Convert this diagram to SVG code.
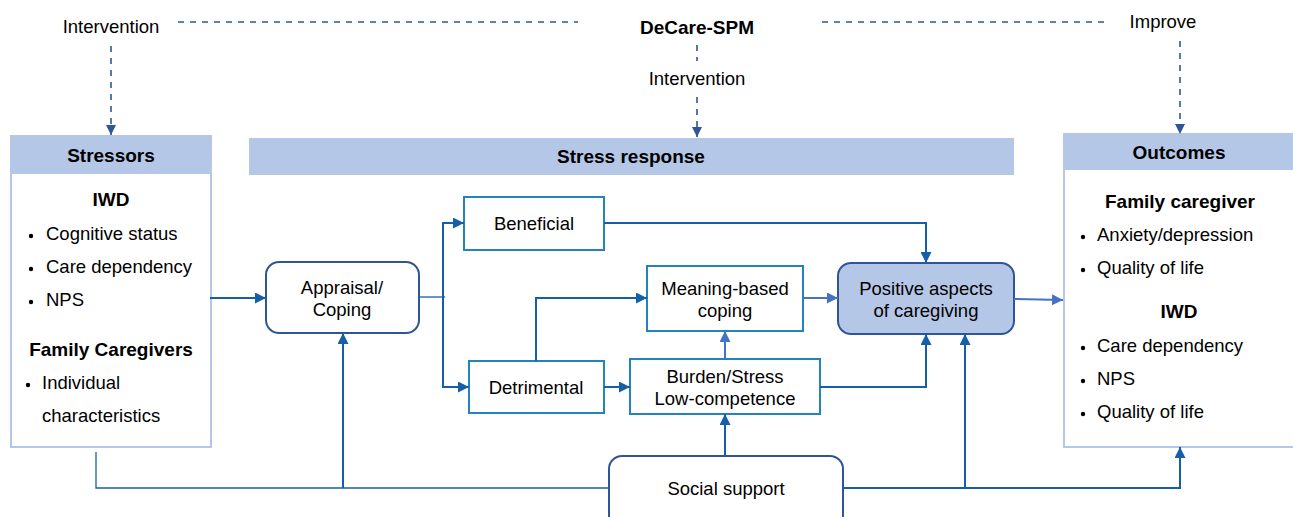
<svg xmlns="http://www.w3.org/2000/svg" width="1293" height="517" viewBox="0 0 1293 517">
<style>
text{font-family:"Liberation Sans",Arial,sans-serif;font-size:18.5px;fill:#000}
.b{font-weight:bold;font-size:19px}
.c{text-anchor:middle}
.hdr{fill:#b4c7e7}
.panel{fill:#fff;stroke:#b4c7e7;stroke-width:2}
.box{fill:#fff;stroke:#2383bd;stroke-width:2}
.rbox{fill:#fff;stroke:#2f5597;stroke-width:2}
.dash{fill:none;stroke:#2f5597;stroke-width:1.6;stroke-dasharray:6,6}
.ln{fill:none;stroke:#145fa8;stroke-width:2}
.thin{fill:none;stroke:#145fa8;stroke-width:1.3}
.lt{fill:none;stroke:#4472c4;stroke-width:2}
</style>
<defs>
<marker id="ad" viewBox="0 0 10 10" refX="10" refY="5" markerWidth="5.5" markerHeight="5.5" orient="auto"><path d="M0,0 L10,5 L0,10 z" fill="#145fa8"/></marker>
<marker id="al" viewBox="0 0 10 10" refX="10" refY="5" markerWidth="5.5" markerHeight="5.5" orient="auto"><path d="M0,0 L10,5 L0,10 z" fill="#4472c4"/></marker>
<marker id="ak" viewBox="0 0 10 10" refX="10" refY="5" markerWidth="6.5" markerHeight="6.5" orient="auto"><path d="M0,0 L10,5 L0,10 z" fill="#2f5597"/></marker>
</defs>

<g id="top">
<text class="c" x="111" y="33">Intervention</text>
<text class="c b" x="697" y="34">DeCare-SPM</text>
<text class="c" x="697" y="85">Intervention</text>
<text class="c" x="1163" y="28">Improve</text>
</g>

<g id="stressors">
<rect class="panel" x="11" y="136" width="200" height="311"/>
<rect class="hdr" x="11" y="136" width="200" height="38"/>
<text class="c b" x="111" y="162">Stressors</text>
<text class="c b" x="111" y="206">IWD</text>
<circle cx="31" cy="236" r="2.2"/><text x="46" y="240">Cognitive status</text>
<circle cx="31" cy="269" r="2.2"/><text x="46" y="273">Care dependency</text>
<circle cx="31" cy="302" r="2.2"/><text x="46" y="306">NPS</text>
<text class="c b" x="111" y="356">Family Caregivers</text>
<circle cx="28" cy="385" r="2.2"/><text x="42" y="389">Individual</text>
<text x="42" y="422">characteristics</text>
</g>

<g id="stress-response">
<rect class="hdr" x="249" y="138" width="765" height="37"/>
<text class="c b" x="631" y="163">Stress response</text>
</g>

<g id="outcomes">
<rect class="panel" x="1064" y="134" width="240" height="313"/>
<rect class="hdr" x="1063" y="134" width="232" height="36"/>
<text class="c b" x="1179" y="159">Outcomes</text>
<text class="c b" x="1180" y="208">Family caregiver</text>
<circle cx="1083" cy="237" r="2.2"/><text x="1097" y="241">Anxiety/depression</text>
<circle cx="1083" cy="270" r="2.2"/><text x="1097" y="274">Quality of life</text>
<text class="c b" x="1179" y="318">IWD</text>
<circle cx="1083" cy="348" r="2.2"/><text x="1097" y="352">Care dependency</text>
<circle cx="1083" cy="381" r="2.2"/><text x="1097" y="385">NPS</text>
<circle cx="1083" cy="414" r="2.2"/><text x="1097" y="418">Quality of life</text>
</g>

<g id="appraisal">
<rect class="rbox" x="266" y="262" width="153" height="71" rx="13"/>
<text class="c" x="342" y="294">Appraisal/</text>
<text class="c" x="342" y="316">Coping</text>
</g>

<g id="beneficial">
<rect class="box" x="464" y="197" width="140" height="53"/>
<text class="c" x="534" y="230">Beneficial</text>
</g>

<g id="detrimental">
<rect class="box" x="469" y="361" width="135" height="52"/>
<text class="c" x="536" y="394">Detrimental</text>
</g>

<g id="meaning">
<rect class="box" x="647" y="266" width="156" height="65"/>
<text class="c" x="725" y="295">Meaning-based</text>
<text class="c" x="725" y="317">coping</text>
</g>

<g id="burden">
<rect class="box" x="630" y="359" width="190" height="55"/>
<text class="c" x="725" y="383">Burden/Stress</text>
<text class="c" x="725" y="405">Low-competence</text>
</g>

<g id="positive">
<rect x="838" y="263" width="176" height="71" rx="13" fill="#b4c7e7" stroke="#2f5597" stroke-width="2"/>
<text class="c" x="926" y="295">Positive aspects</text>
<text class="c" x="926" y="317">of caregiving</text>
</g>

<g id="social">
<rect class="rbox" x="609" y="456" width="234" height="72" rx="13"/>
<text class="c" x="726" y="495">Social support</text>
</g>

<g id="connectors">
<path class="dash" d="M178,22 H578"/>
<path class="dash" d="M822,22 H1110"/>
<path class="dash" d="M111,46 V135" marker-end="url(#ak)"/>
<path class="dash" d="M697,45 V61"/>
<path class="dash" d="M697,97 V137" marker-end="url(#ak)"/>
<path class="dash" d="M1180,41 V134" marker-end="url(#ak)"/>

<path class="ln" d="M210,298 H266" marker-end="url(#ad)"/>
<path class="thin" d="M419,297 H445"/>
<path class="ln" d="M464,223 H443 V387 H469" marker-end="url(#ad)"/>
<path class="ln" d="M443,223 H464" marker-end="url(#ad)"/>
<path class="ln" d="M604,223 H926 V263" marker-end="url(#ad)"/>
<path class="ln" d="M536,361 V298 H647" marker-end="url(#ad)"/>
<path class="ln" d="M604,387 H630" marker-end="url(#ad)"/>
<path class="lt" d="M725,359 V331" marker-end="url(#al)"/>
<path class="lt" d="M803,298 H838" marker-end="url(#al)"/>
<path class="ln" d="M820,387 H926 V334" marker-end="url(#ad)"/>
<path class="ln" d="M725,456 V414" marker-end="url(#ad)"/>
<path class="ln" d="M843,488 H1180 V447" marker-end="url(#ad)"/>
<path class="ln" d="M965,488 V334" marker-end="url(#ad)"/>
<path class="thin" d="M609,488 H96 V452" stroke="#2e75b6"/>
<path class="ln" d="M343,488 V333" marker-end="url(#ad)"/>
<path class="lt" d="M1014,299 L1063,300" marker-end="url(#al)"/>
</g>
</svg>
